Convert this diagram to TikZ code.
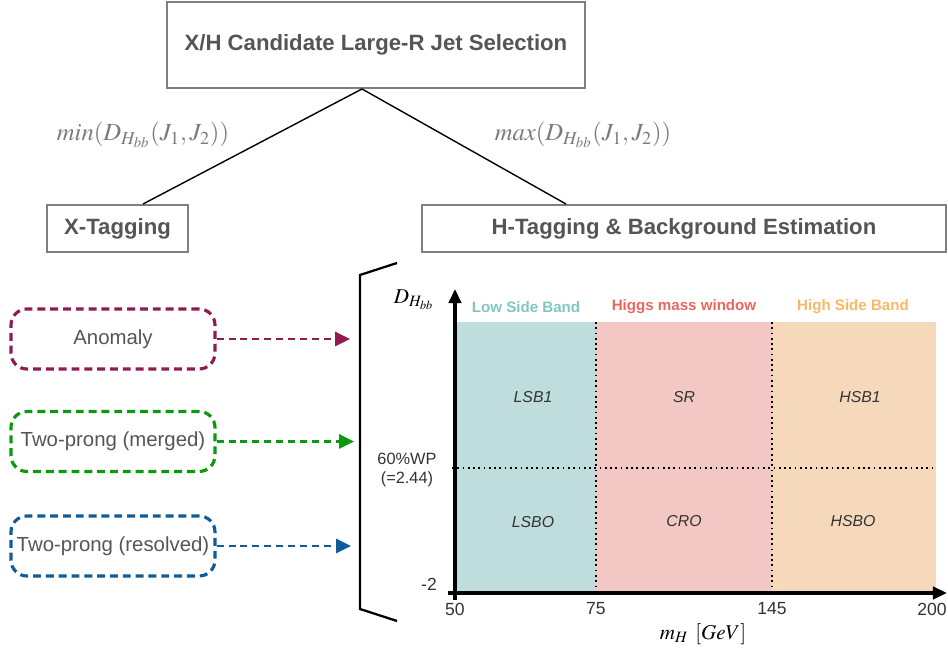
\documentclass[tikz,border=0pt]{standalone}
\usepackage{mathptmx}
\usepackage[no-math]{fontspec}
\newfontfamily\sans{Liberation Sans}
\usetikzlibrary{arrows.meta}
\tikzset{ > = Triangle }

\definecolor{boxgray}{HTML}{808080}
\definecolor{txtgray}{HTML}{555555}
\definecolor{labgray}{HTML}{7A7A7A}
\definecolor{anomred}{HTML}{8E1B52}
\definecolor{mergegreen}{HTML}{0B9A0B}
\definecolor{resolveblue}{HTML}{105C9A}
\definecolor{lsbfill}{HTML}{BEDDDC}
\definecolor{srfill}{HTML}{F3C7C3}
\definecolor{hsbfill}{HTML}{F6D9BB}
\definecolor{lsbtxt}{HTML}{80C6C4}
\definecolor{srtxt}{HTML}{EA675E}
\definecolor{hsbtxt}{HTML}{F5B967}
\definecolor{regtxt}{HTML}{333333}

\begin{document}
\begin{tikzpicture}
  [
    x = 0.02cm, y = -0.02cm,
    every node/.style = { inner sep = 0pt },
    selbox/.style = { draw = boxgray, line width = 1.1pt, text = txtgray,
                      font = \sans\bfseries\fontsize{12.6}{15}\selectfont },
    tagbox/.style = { draw = #1, line width = 1.8pt, dash pattern = on 4.5pt off 2.8pt,
                      rounded corners = 9pt, minimum width = 4.08cm, minimum height = 1.2cm,
                      text = txtgray, font = \sans\fontsize{11.6}{14}\selectfont },
    tagarrow/.style = { draw = #1, line width = 1.7pt, dash pattern = on 4pt off 2.8pt,
                        -{Triangle[length = 8.5pt, width = 8pt, fill = #1]} },
    band/.style = { font = \sans\bfseries\fontsize{8.6}{10}\selectfont },
    region/.style = { text = regtxt, font = \sans\itshape\fontsize{9}{11}\selectfont },
    tick/.style = { text = regtxt, font = \sans\fontsize{10}{12}\selectfont },
    axis/.style = { line width = 2.2pt, -{Triangle[length = 8pt, width = 7pt]} },
    cut/.style = { dotted, line width = 1pt }
  ]
  \useasboundingbox (0,0) rectangle (948,651);

  % selection tree
  \node (sel) [selbox, minimum width = 8.36cm, minimum height = 1.72cm] at (376,45) {X/H Candidate Large-R Jet Selection};
  \node (xtag) [selbox, minimum width = 2.82cm, minimum height = 0.94cm] at (117.5,228.5) {X-Tagging};
  \node (htag) [selbox, minimum width = 10.48cm, minimum height = 0.94cm] at (684,228.5) {H-Tagging \& Background Estimation};
  \draw [line width = 0.8pt] ([xshift = -0.28cm]sel.south) -- ([xshift = 0.51cm]xtag.north);
  \draw [line width = 0.8pt] ([xshift = -0.28cm]sel.south) -- ([xshift = -2.36cm]htag.north);
  \node (minlab) [text = labgray, font = \fontsize{14}{16}\selectfont] at (143,135) {$min(D_{H_{bb}}(J_1, J_2))$};
  \node (maxlab) [text = labgray, font = \fontsize{14}{16}\selectfont] at (583,135) {$max(D_{H_{bb}}(J_1, J_2))$};

  % x-tagging categories
  \node (anom) [tagbox = anomred] at (113,339) {Anomaly};
  \node (merg) [tagbox = mergegreen] at (113,441.5) {Two-prong (merged)};
  \node (reso) [tagbox = resolveblue] at (113,546) {Two-prong (resolved)};
  \coordinate (anomend) at (350,339);
  \coordinate (mergend) at (354,441.5);
  \coordinate (resoend) at (351,546);
  \draw [tagarrow = anomred] (anom.east) -- (anomend);
  \draw [tagarrow = mergegreen] (merg.east) -- (mergend);
  \draw [tagarrow = resolveblue] (reso.east) -- (resoend);

  % bracket
  \draw [line width = 1.3pt] (397,263) -- (360,275) -- (360,609) -- (397,621);

  % mass plane
  \fill [lsbfill] (455,322) rectangle (596,593);
  \fill [srfill] (596,322) rectangle (772,593);
  \fill [hsbfill] (772,322) rectangle (936,593);
  \draw [cut] (596,322) -- (596,593);
  \draw [cut] (772,322) -- (772,593);
  \draw [cut] (452,468) -- (936,468);
  \draw [axis] (455,600) -- (455,289);
  \draw [axis] (448,593) -- (947,593);

  \node (lsb) [band, text = lsbtxt] at (526,307) {Low Side Band};
  \node (hmw) [band, text = srtxt] at (684,307) {Higgs mass window};
  \node (hsb) [band, text = hsbtxt] at (853,307) {High Side Band};
  \node (lsb1) [region] at (533,397) {LSB1};
  \node (sr) [region] at (684,397) {SR};
  \node (hsb1) [region] at (860,397) {HSB1};
  \node (lsb0) [region] at (533,522) {LSBO};
  \node (cr0) [region] at (684,521) {CRO};
  \node (hsb0) [region] at (853,521) {HSBO};

  \node (t50) [tick] at (455,609) {50};
  \node (t75) [tick] at (596,609) {75};
  \node (t145) [tick] at (772,609) {145};
  \node (t200) [tick] at (932,609) {200};
  \node (wp) [tick, font = \sans\fontsize{9.3}{11}\selectfont, align = center] at (407,470) {60\%WP\\(=2.44)};
  \node (ymin) [tick] at (429,584) {-2};
  \node (ylab) [font = \fontsize{12}{14}\selectfont] at (414,300) {$D_{H_{bb}}$};
  \node (xlab) [font = \fontsize{12}{14}\selectfont] at (703,634) {$m_H~[GeV]$};
\end{tikzpicture}
\end{document}
